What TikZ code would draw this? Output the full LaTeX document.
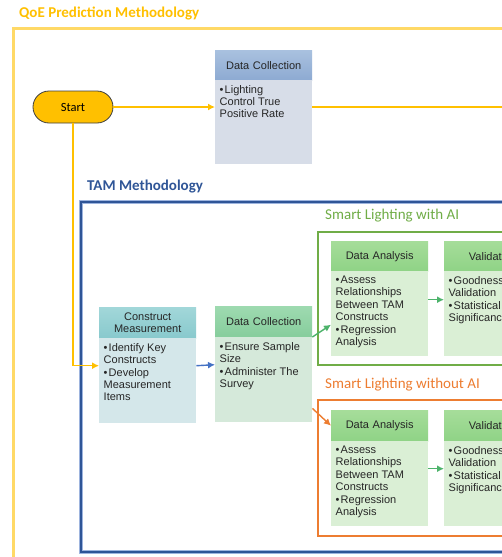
\documentclass[tikz,border=0pt]{standalone}
\usepackage{fontspec}
\newfontfamily\boxfont{Liberation Sans}
\newfontfamily\calfont{Carlito}
\usetikzlibrary{arrows.meta}

\definecolor{qoegold}{HTML}{FFC000}
\definecolor{qoeframe}{HTML}{FFD966}
\definecolor{tamblue}{HTML}{2F5597}
\definecolor{tamlight}{HTML}{9DB4DE}
\definecolor{aigreen}{HTML}{70AD47}
\definecolor{noaiorange}{HTML}{ED7D31}
\definecolor{txtgray}{HTML}{262626}
\definecolor{arrowblue}{HTML}{4472C4}
\definecolor{arrowgreen}{HTML}{4DB36B}
% box colours
\definecolor{dctop}{HTML}{A9C1DF}
\definecolor{dcbot}{HTML}{8DAAD2}
\definecolor{dcfill}{HTML}{D7DDE8}
\definecolor{cmtop}{HTML}{A2D7D9}
\definecolor{cmbot}{HTML}{88C9CD}
\definecolor{cmfill}{HTML}{D4E7EA}
\definecolor{sctop}{HTML}{9EDAB0}
\definecolor{scbot}{HTML}{86CD9C}
\definecolor{scfill}{HTML}{D5E9DA}
\definecolor{datop}{HTML}{A6DD9A}
\definecolor{dabot}{HTML}{8FD386}
\definecolor{dafill}{HTML}{DAEFD5}

\newcommand{\bodytext}[2]{\parbox[t][#1][t]{88pt}{\raggedright #2}}
\newcommand{\bitem}[1]{\hangindent=5pt\hangafter=1\noindent\makebox[5pt][l]{\textbullet}#1\par\vspace{1pt}}

\tikzset{
  hdr/.style={
    rectangle, anchor=north west, minimum width=97pt, minimum height=31pt,
    inner sep=2pt, text width=93pt, align=center, text=txtgray,
    font={\boxfont\fontsize{11}{12}\selectfont}
  },
  bdy/.style={
    rectangle, anchor=north west, inner xsep=4.5pt, inner ysep=5pt,
    text=txtgray, font={\boxfont\fontsize{11}{12.2}\selectfont}
  },
  grouptitle/.style={anchor=west, inner sep=0pt, font={\calfont\fontsize{15}{17}\selectfont}},
  yarrow/.style={-{Latex[length=7pt,width=7pt]}, draw=qoegold, line width=1.4pt},
  carrow/.style={-{Latex[length=7pt,width=7pt]}, line width=1.4pt}
}

\begin{document}
\begin{tikzpicture}[x=1pt, y=-1pt]
 \clip (0,0) rectangle (502,557);
 \fill[white] (0,0) rectangle (502,557);

 % frames
 \draw[qoeframe, line width=3pt] (13.5,28.5) rectangle (540,600);
 \draw[tamlight, line width=3.6pt] (81,202) rectangle (540,552);
 \draw[tamblue, line width=2pt] (81,202) rectangle (540,552);
 \draw[aigreen, line width=1.8pt] (318,232) rectangle (540,365);
 \draw[noaiorange, line width=1.8pt] (318,400) rectangle (540,536);

 \node[grouptitle, text=qoegold, font={\calfont\bfseries\fontsize{15}{17}\selectfont}] (qoetitle) at (19,13) {QoE Prediction Methodology};
 \node[grouptitle, text=tamblue, font={\calfont\bfseries\fontsize{15}{17}\selectfont}] (tamtitle) at (87,187) {TAM Methodology};
 \node[grouptitle, text=aigreen] (aititle) at (325,216) {Smart Lighting with AI};
 \node[grouptitle, text=noaiorange] (noaititle) at (325,385) {Smart Lighting without AI};

 \node[rectangle, rounded corners=16pt, minimum width=80pt, minimum height=32pt,
   fill=qoegold, draw=black!75, line width=0.8pt, font={\calfont\fontsize{12.5}{14}\selectfont}] (start) at (73,107) {Start};

 % QoE data collection
 \node[hdr, top color=dctop, bottom color=dcbot, minimum height=30pt] (dchdr) at (215,50) {Data Collection};
 \node[bdy, fill=dcfill] (dcbody) at (215,80) {\bodytext{74pt}{\bitem{Lighting\\Control True\\Positive Rate}}};

 % TAM boxes
 \node[hdr, top color=cmtop, bottom color=cmbot] (cmhdr) at (99,307) {Construct\\Measurement};
 \node[bdy, fill=cmfill] (cmbody) at (99,338) {\bodytext{75pt}{\bitem{Identify Key\\Constructs}\bitem{Develop\\Measurement\\Items}}};

 \node[hdr, top color=sctop, bottom color=scbot] (schdr) at (215,306) {Data Collection};
 \node[bdy, fill=scfill] (scbody) at (215,337) {\bodytext{75pt}{\bitem{Ensure Sample\\Size}\bitem{Administer The\\Survey}}};

 % with AI
 \node[hdr, top color=datop, bottom color=dabot, minimum height=30pt] (dahdr) at (331,241) {Data Analysis};
 \node[bdy, fill=dafill] (dabody) at (331,271) {\bodytext{75pt}{\bitem{Assess\\Relationships\\Between TAM\\Constructs}\bitem{Regression\\Analysis}}};
 \node[hdr, top color=datop, bottom color=dabot, minimum height=30pt] (valhdr) at (444,241) {Validation};
 \node[bdy, fill=dafill] (valbody) at (444,271) {\bodytext{75pt}{\bitem{Goodness of\\Validation}\bitem{Statistical\\Significance}}};

 % without AI
 \node[hdr, top color=datop, bottom color=dabot] (nadahdr) at (331,410) {Data Analysis};
 \node[bdy, fill=dafill] (nadabody) at (331,441) {\bodytext{75pt}{\bitem{Assess\\Relationships\\Between TAM\\Constructs}\bitem{Regression\\Analysis}}};
 \node[hdr, top color=datop, bottom color=dabot] (navalhdr) at (444,410) {Validation};
 \node[bdy, fill=dafill] (navalbody) at (444,441) {\bodytext{75pt}{\bitem{Goodness of\\Validation}\bitem{Statistical\\Significance}}};

 \coordinate (qoeout) at (540,107);

 \draw[yarrow] (start.east) -- (start.east -| dcbody.west);
 \draw[draw=qoegold, line width=1.4pt] (start.east -| dcbody.east) -- (qoeout);
 \draw[yarrow] (start.south) |- ([yshift=15pt]cmbody.west);
 \draw[carrow, draw=arrowblue] ([yshift=15pt]cmbody.east) -- ([yshift=15pt]scbody.west);
 \draw[carrow, draw=arrowgreen] (scbody.north east) -- ([yshift=-11pt]dabody.west);
 \draw[carrow, draw=noaiorange] ([yshift=14pt]scbody.south east) -- (nadahdr.west);
 \draw[carrow, draw=arrowgreen] ([yshift=14pt]dabody.east) -- ([yshift=14pt]valbody.west);
 \draw[carrow, draw=arrowgreen] ([yshift=15pt]nadabody.east) -- ([yshift=15pt]navalbody.west);

\end{tikzpicture}
\end{document}
